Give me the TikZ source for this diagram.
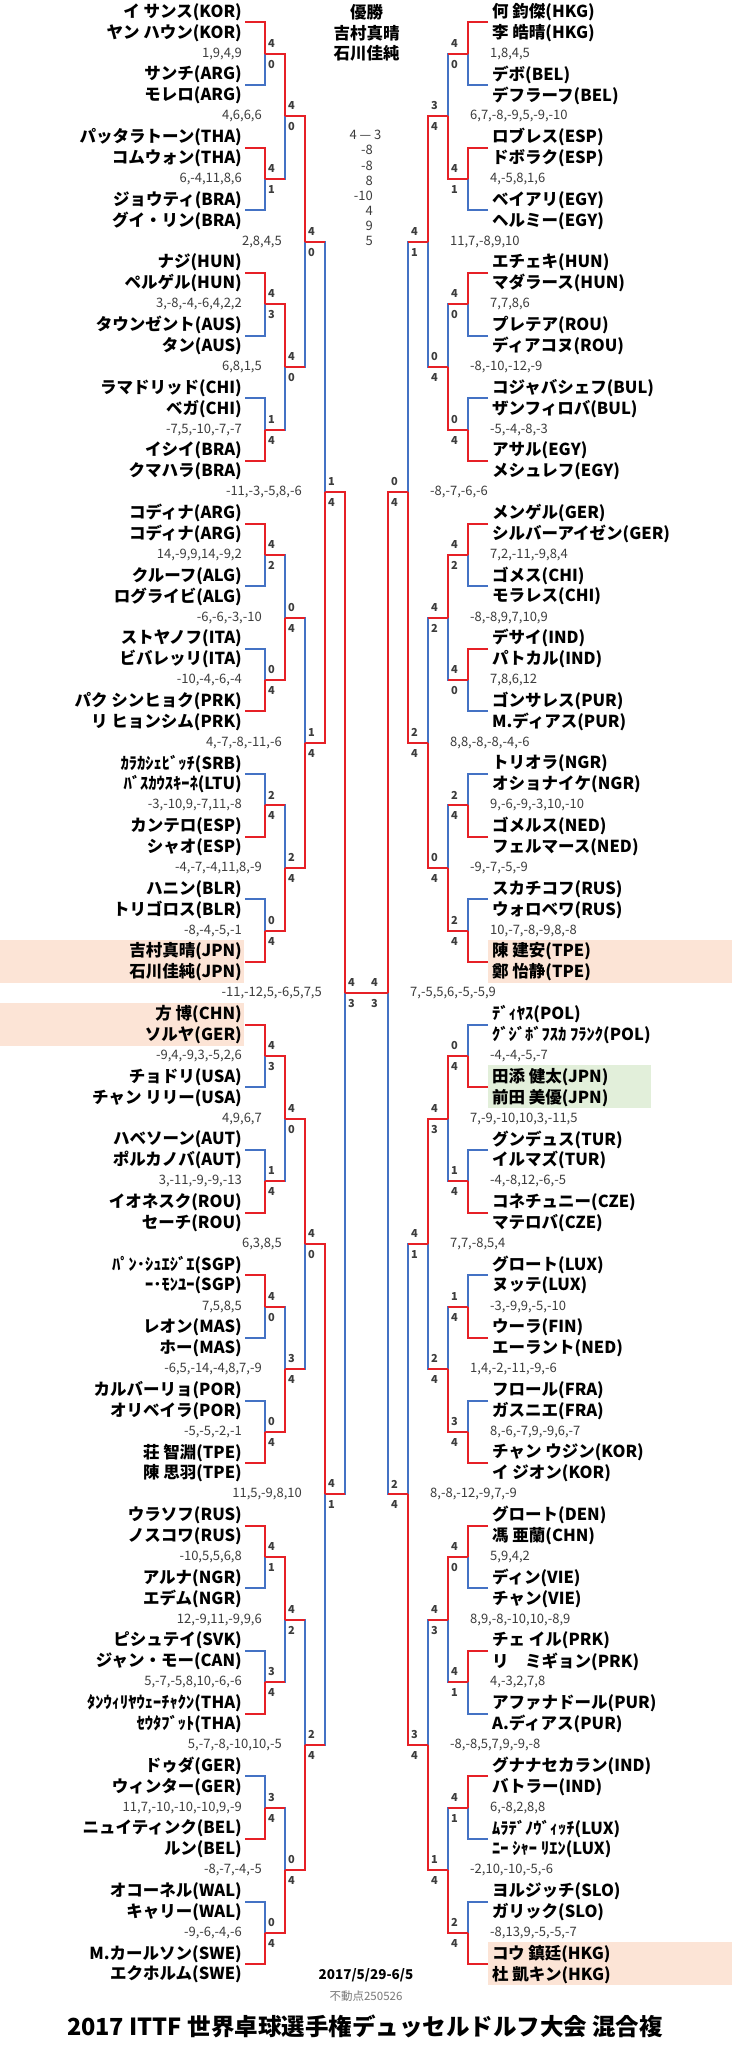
\documentclass[tikz,border=0pt]{standalone}
\usepackage{fontspec}
\setmainfont{Noto Sans CJK JP}
\usetikzlibrary{calc}
\definecolor{wr}{RGB}{230,32,38}
\definecolor{lb}{RGB}{68,114,196}
\definecolor{peach}{RGB}{252,228,214}
\definecolor{mint}{RGB}{226,239,218}
\definecolor{scg}{RGB}{60,60,60}
\definecolor{lg}{RGB}{120,120,120}
\tikzset{
  ln/.style={line width=2pt,line join=miter},
  nmL/.style={anchor=east,inner sep=0pt,font=\fontsize{16.5}{16.5}\selectfont\bfseries},
  nmR/.style={anchor=west,inner sep=0pt,font=\fontsize{16.5}{16.5}\selectfont\bfseries},
  nmC/.style={anchor=center,inner sep=0pt,font=\fontsize{16.5}{16.5}\selectfont\bfseries},
  scL/.style={anchor=east,inner sep=0pt,text=scg,font=\fontsize{13}{13}\selectfont},
  scR/.style={anchor=west,inner sep=0pt,text=scg,font=\fontsize{13}{13}\selectfont},
  lab/.style={anchor=west,inner sep=0pt,text=scg,font=\fontsize{11}{11}\selectfont\bfseries},
  fsc/.style={anchor=east,inner sep=0pt,text=scg,font=\fontsize{13}{13}\selectfont},
}
\newcommand\ry[1]{12+20.88*(#1)}
\newcommand\mtch[7]{%
  \pgfmathtruncatemacro\qq{#2-1}%
  \pgfmathtruncatemacro\ta{2*#3}%
  \pgfmathtruncatemacro\tb{2*#3+1}%
  \ifnum#4=1 \def\tc{wr}\def\bc{lb}\else\def\tc{lb}\def\bc{wr}\fi
  \draw[ln,draw=\tc] (#1\qq m\ta) -| (#1#2m#3);
  \draw[ln,draw=\bc] (#1\qq m\tb) -| (#1#2m#3);
  \ifnum#2>1
    \draw[ln,draw=wr] (#1\qq m\ta) -- (#1\qq m\ta -| #1#2m#3);
    \draw[ln,draw=wr] (#1\qq m\tb) -- (#1\qq m\tb -| #1#2m#3);
  \fi
  \if#1L
    \node[lab] (#1#2m#3t) at ([xshift=3pt,yshift=10.5pt]#1#2m#3) {#5};
    \node[lab] (#1#2m#3b) at ([xshift=3pt,yshift=-10.5pt]#1#2m#3) {#6};
    \node[scL] (#1#2m#3s) at ([xshift=-23pt]#1#2m#3) {#7};
  \else
    \node[lab] (#1#2m#3t) at ([xshift=-17pt,yshift=10.5pt]#1#2m#3) {#5};
    \node[lab] (#1#2m#3b) at ([xshift=-17pt,yshift=-10.5pt]#1#2m#3) {#6};
    \node[scR] (#1#2m#3s) at ([xshift=22pt]#1#2m#3) {#7};
  \fi
}
\begin{document}
\begin{tikzpicture}[x=1pt,y=-1pt]
\useasboundingbox (0,0) rectangle (732,2048);
\fill[white] (0,0) rectangle (732,2048);
% highlight bands
\fill[peach] (0,{\ry{45}-11.5}) rectangle (244,{\ry{46}+10.5});
\fill[peach] (0,{\ry{48}-11.5}) rectangle (244,{\ry{49}+10.5});
\fill[peach] (488,{\ry{45}-11.5}) rectangle (732,{\ry{46}+10.5});
\fill[mint] (488,{\ry{51}-11.5}) rectangle (651,{\ry{52}+10.5});
\fill[peach] (488,{\ry{93}-11.5}) rectangle (732,{\ry{94}+10.5});
% coordinates
\foreach \k in {0,...,31}{
  \coordinate (L0m\k) at (245,{\ry{3*\k+0.5}});
  \coordinate (R0m\k) at (488,{\ry{3*\k+0.5}});
}
\foreach \r in {1,...,5}{
  \pgfmathtruncatemacro\nmax{2^(5-\r)-1}
  \foreach \j in {0,...,\nmax}{
    \pgfmathsetmacro\pp{3*2^\r*\j+3*2^(\r-1)-1}
    \coordinate (L\r m\j) at ({245+20*\r},{\ry{\pp}});
    \coordinate (R\r m\j) at ({488-20*\r},{\ry{\pp}});
  }
}
% names
\foreach \nm [count=\e from 0] in {イ サンス(KOR), ヤン ハウン(KOR), サンチ(ARG), モレロ(ARG), パッタラトーン(THA), コムウォン(THA), ジョウティ(BRA), グイ・リン(BRA), ナジ(HUN), ペルゲル(HUN), タウンゼント(AUS), タン(AUS), ラマドリッド(CHI), ベガ(CHI), イシイ(BRA), クマハラ(BRA), コディナ(ARG), コディナ(ARG), クルーフ(ALG), ログライビ(ALG), ストヤノフ(ITA), ビバレッリ(ITA), パク シンヒョク(PRK), リ ヒョンシム(PRK), ｶﾗｶｼｪﾋﾞｯﾁ(SRB), ﾊﾞｽｶｳｽｷｰﾈ(LTU), カンテロ(ESP), シャオ(ESP), ハニン(BLR), トリゴロス(BLR), 吉村真晴(JPN), 石川佳純(JPN), 方 博(CHN), ソルヤ(GER), チョドリ(USA), チャン リリー(USA), ハベソーン(AUT), ポルカノバ(AUT), イオネスク(ROU), セーチ(ROU), ﾊﾟﾝ･ｼｭｴｼﾞｴ(SGP), ｰ･ﾓﾝﾕｰ(SGP), レオン(MAS), ホー(MAS), カルバーリョ(POR), オリベイラ(POR), 荘 智淵(TPE), 陳 思羽(TPE), ウラソフ(RUS), ノスコワ(RUS), アルナ(NGR), エデム(NGR), ピシュテイ(SVK), ジャン・モー(CAN), ﾀﾝｳｨﾘﾔｳｪｰﾁｬｸﾝ(THA), ｾｳﾀﾌﾞｯﾄ(THA), ドゥダ(GER), ウィンター(GER), ニュイティンク(BEL), ルン(BEL), オコーネル(WAL), キャリー(WAL), M.カールソン(SWE), エクホルム(SWE)}{
  \pgfmathtruncatemacro\rw{\e+floor(\e/2)}
  \node[nmL] (LN\e) at (242,{\ry{\rw}}) {\nm};
}
\foreach \nm [count=\e from 0] in {何 鈞傑(HKG), 李 皓晴(HKG), デボ(BEL), デフラーフ(BEL), ロブレス(ESP), ドボラク(ESP), ベイアリ(EGY), ヘルミー(EGY), エチェキ(HUN), マダラース(HUN), プレテア(ROU), ディアコヌ(ROU), コジャバシェフ(BUL), ザンフィロバ(BUL), アサル(EGY), メシュレフ(EGY), メンゲル(GER), シルバーアイゼン(GER), ゴメス(CHI), モラレス(CHI), デサイ(IND), パトカル(IND), ゴンサレス(PUR), M.ディアス(PUR), トリオラ(NGR), オショナイケ(NGR), ゴメルス(NED), フェルマース(NED), スカチコフ(RUS), ウォロベワ(RUS), 陳 建安(TPE), 鄭 怡静(TPE), ﾃﾞｨﾔｽ(POL), ｸﾞｼﾞﾎﾞﾌｽｶ ﾌﾗﾝｸ(POL), 田添 健太(JPN), 前田 美優(JPN), グンデュス(TUR), イルマズ(TUR), コネチュニー(CZE), マテロバ(CZE), グロート(LUX), ヌッテ(LUX), ウーラ(FIN), エーラント(NED), フロール(FRA), ガスニエ(FRA), チャン ウジン(KOR), イ ジオン(KOR), グロート(DEN), 馮 亜蘭(CHN), ディン(VIE), チャン(VIE), チェ イル(PRK), リ　ミギョン(PRK), アファナドール(PUR), A.ディアス(PUR), グナナセカラン(IND), バトラー(IND), ﾑﾗﾃﾞﾉｳﾞｨｯﾁ(LUX), ﾆｰ ｼｬｰ ﾘｴﾝ(LUX), ヨルジッチ(SLO), ガリック(SLO), コウ 鎮廷(HKG), 杜 凱キン(HKG)}{
  \pgfmathtruncatemacro\rw{\e+floor(\e/2)}
  \node[nmR] (RN\e) at (492,{\ry{\rw}}) {\nm};
}
% left bracket
\foreach \j/\w/\a/\b/\s in {0/1/4/0/{1,9,4,9},1/1/4/1/{6,-4,11,8,6},2/1/4/3/{3,-8,-4,-6,4,2,2},3/0/1/4/{-7,5,-10,-7,-7},4/1/4/2/{14,-9,9,14,-9,2},5/0/0/4/{-10,-4,-6,-4},6/0/2/4/{-3,-10,9,-7,11,-8},7/0/0/4/{-8,-4,-5,-1},8/1/4/3/{-9,4,-9,3,-5,2,6},9/0/1/4/{3,-11,-9,-9,-13},10/1/4/0/{7,5,8,5},11/0/0/4/{-5,-5,-2,-1},12/1/4/1/{-10,5,5,6,8},13/0/3/4/{5,-7,-5,8,10,-6,-6},14/0/3/4/{11,7,-10,-10,-10,9,-9},15/0/0/4/{-9,-6,-4,-6}}{\mtch{L}{1}{\j}{\w}{\a}{\b}{\s}}
\foreach \j/\w/\a/\b/\s in {0/1/4/0/{4,6,6,6},1/1/4/0/{6,8,1,5},2/0/0/4/{-6,-6,-3,-10},3/0/2/4/{-4,-7,-4,11,8,-9},4/1/4/0/{4,9,6,7},5/0/3/4/{-6,5,-14,-4,8,7,-9},6/1/4/2/{12,-9,11,-9,9,6},7/0/0/4/{-8,-7,-4,-5}}{\mtch{L}{2}{\j}{\w}{\a}{\b}{\s}}
\foreach \j/\w/\a/\b/\s in {0/1/4/0/{2,8,4,5},1/0/1/4/{4,-7,-8,-11,-6},2/1/4/0/{6,3,8,5},3/0/2/4/{5,-7,-8,-10,10,-5}}{\mtch{L}{3}{\j}{\w}{\a}{\b}{\s}}
\foreach \j/\w/\a/\b/\s in {0/0/1/4/{-11,-3,-5,8,-6},1/1/4/1/{11,5,-9,8,10}}{\mtch{L}{4}{\j}{\w}{\a}{\b}{\s}}
\mtch{L}{5}{0}{1}{4}{3}{-11,-12,5,-6,5,7,5}
% right bracket
\foreach \j/\w/\a/\b/\s in {0/1/4/0/{1,8,4,5},1/1/4/1/{4,-5,8,1,6},2/1/4/0/{7,7,8,6},3/0/0/4/{-5,-4,-8,-3},4/1/4/2/{7,2,-11,-9,8,4},5/1/4/0/{7,8,6,12},6/0/2/4/{9,-6,-9,-3,10,-10},7/0/2/4/{10,-7,-8,-9,8,-8},8/0/0/4/{-4,-4,-5,-7},9/0/1/4/{-4,-8,12,-6,-5},10/0/1/4/{-3,-9,9,-5,-10},11/0/3/4/{8,-6,-7,9,-9,6,-7},12/1/4/0/{5,9,4,2},13/1/4/1/{4,-3,2,7,8},14/1/4/1/{6,-8,2,8,8},15/0/2/4/{-8,13,9,-5,-5,-7}}{\mtch{R}{1}{\j}{\w}{\a}{\b}{\s}}
\foreach \j/\w/\a/\b/\s in {0/0/3/4/{6,7,-8,-9,5,-9,-10},1/0/0/4/{-8,-10,-12,-9},2/1/4/2/{-8,-8,9,7,10,9},3/0/0/4/{-9,-7,-5,-9},4/1/4/3/{7,-9,-10,10,3,-11,5},5/0/2/4/{1,4,-2,-11,-9,-6},6/1/4/3/{8,9,-8,-10,10,-8,9},7/0/1/4/{-2,10,-10,-5,-6}}{\mtch{R}{2}{\j}{\w}{\a}{\b}{\s}}
\foreach \j/\w/\a/\b/\s in {0/1/4/1/{11,7,-8,9,10},1/0/2/4/{8,8,-8,-8,-4,-6},2/1/4/1/{7,7,-8,5,4},3/0/3/4/{-8,-8,5,7,9,-9,-8}}{\mtch{R}{3}{\j}{\w}{\a}{\b}{\s}}
\foreach \j/\w/\a/\b/\s in {0/0/0/4/{-8,-7,-6,-6},1/0/2/4/{8,-8,-12,-9,7,-9}}{\mtch{R}{4}{\j}{\w}{\a}{\b}{\s}}
\mtch{R}{5}{0}{1}{4}{3}{7,-5,5,6,-5,-5,9}
% final
\draw[ln,draw=wr] (L5m0) -- (R5m0);
% champion
\node[nmC] (champ) at (366.5,{\ry{0}}) {優勝};
\node[nmC] (cp1) at (366.5,{\ry{1}}) {吉村真晴};
\node[nmC] (cp2) at (366.5,{\ry{2}}) {石川佳純};
\node[anchor=center,inner sep=0pt,text=scg,font=\fontsize{13}{13}\selectfont] (fs) at (365.5,135) {4 — 3};
\foreach \g [count=\i] in {-8,-8,8,-10,4,9,5}{
  \node[fsc] (fg\i) at (373,{135+15.2*\i}) {\g};
}
% footer
\node[anchor=center,inner sep=0pt,font=\fontsize{13.5}{13.5}\selectfont\bfseries] (date) at (366,1975) {2017/5/29-6/5};
\node[anchor=center,inner sep=0pt,text=lg,font=\fontsize{11.5}{11.5}\selectfont] (stamp) at (366,1996) {不動点250526};
\node[anchor=center,inner sep=0pt,font=\fontsize{23.5}{23.5}\selectfont\bfseries] (title) at (365,2026) {2017 ITTF 世界卓球選手権デュッセルドルフ大会 混合複};
\end{tikzpicture}
\end{document}
